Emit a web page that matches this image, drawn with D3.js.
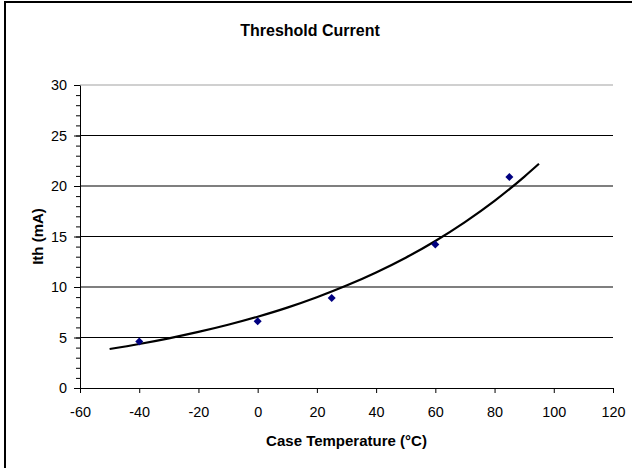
<!DOCTYPE html>
<html>
<head>
<meta charset="utf-8">
<script src="https://cdn.jsdelivr.net/npm/d3@7"></script>
<style>
  body { margin: 0; background: #fff; }
  text { font-family: "Liberation Sans", Arial, sans-serif; }
</style>
</head>
<body>
<div id="chart"></div>
<script>
// measured points
const caseTemp = [-40, 0, 25, 60, 85];
const ithValues = [4.6, 6.6, 8.9, 14.2, 20.9];

// trend line
const trendTemp = [-50, -40, -30, -20, -10, 0, 10, 20, 30, 40, 50, 60, 70, 80, 90, 95];
const trendIth = [3.86, 4.36, 4.92, 5.55, 6.26, 7.06, 7.96, 8.99, 10.14, 11.44, 12.9, 14.56, 16.43, 18.53, 20.91, 22.2];

const xTicks = [-60, -40, -20, 0, 20, 40, 60, 80, 100, 120];
const yTicks = [0, 5, 10, 15, 20, 25, 30];
const yMinorTicks = d3.range(0, 31, 1);

const width = 632, height = 468;
const margin = { top: 85, right: 19, bottom: 80, left: 80 };
const innerW = width - margin.left - margin.right;
const innerH = height - margin.top - margin.bottom;

const svg = d3.select("#chart")
    .append("svg")
    .attr("width", width)
    .attr("height", height);

// outer frame
svg.append("rect")
    .attr("x", 5)
    .attr("y", 2)
    .attr("width", 640)
    .attr("height", 480)
    .attr("fill", "none")
    .attr("stroke", "#000")
    .attr("stroke-width", 2);

svg.append("text")
    .attr("x", 310)
    .attr("y", 36)
    .attr("text-anchor", "middle")
    .attr("font-size", "16px")
    .attr("font-weight", "bold")
    .text("Threshold Current");

const g = svg.append("g")
    .attr("transform", "translate(" + margin.left + "," + margin.top + ")");

const x = d3.scaleLinear().domain([-60, 120]).range([0, innerW]);
const y = d3.scaleLinear().domain([0, 30]).range([innerH, 0]);

// gridlines
g.selectAll(".grid")
    .data(yTicks.filter(d => d > 0 && d < 30))
    .enter()
    .append("line")
    .attr("class", "grid")
    .attr("x1", 0)
    .attr("x2", innerW)
    .attr("y1", d => y(d))
    .attr("y2", d => y(d))
    .attr("stroke", "#000")
    .attr("stroke-width", 1.2);

// top border of plot area
g.append("line")
    .attr("x1", 0)
    .attr("x2", innerW)
    .attr("y1", y(30))
    .attr("y2", y(30))
    .attr("stroke", "#c0c0c0")
    .attr("stroke-width", 1.5);

// minor y ticks
g.append("g")
    .call(d3.axisLeft(y).tickValues(yMinorTicks).tickSize(4).tickFormat(""))
    .call(a => a.select(".domain").remove())
    .selectAll("line").attr("stroke", "#000");

// y axis
const yAxis = g.append("g")
    .call(d3.axisLeft(y).tickValues(yTicks).tickSize(6).tickPadding(7)
        .tickSizeOuter(0).tickFormat(d => String(d)));
yAxis.selectAll("text")
    .attr("font-size", "14.4px")
    .attr("fill", "#000");
yAxis.select(".domain").attr("stroke", "#000");

// x axis
const xAxis = g.append("g")
    .attr("transform", "translate(0," + innerH + ")")
    .call(d3.axisBottom(x).tickValues(xTicks).tickSize(5).tickPadding(14)
        .tickSizeOuter(0).tickFormat(d => String(d)));
xAxis.selectAll("text")
    .attr("font-size", "14.4px")
    .attr("fill", "#000");
xAxis.select(".domain").attr("stroke", "#000");

// axis titles
svg.append("text")
    .attr("x", margin.left + innerW / 2)
    .attr("y", 446)
    .attr("text-anchor", "middle")
    .attr("font-size", "15px")
    .attr("font-weight", "bold")
    .text("Case Temperature (°C)");

svg.append("text")
    .attr("transform", "rotate(-90)")
    .attr("x", -(margin.top + innerH / 2))
    .attr("y", 43)
    .attr("text-anchor", "middle")
    .attr("font-size", "15px")
    .attr("font-weight", "bold")
    .text("Ith (mA)");

// trend line
const trend = trendTemp.map((t, i) => ({ t: t, v: trendIth[i] }));
g.append("path")
    .datum(trend)
    .attr("fill", "none")
    .attr("stroke", "#000")
    .attr("stroke-width", 2.2)
    .attr("d", d3.line()
        .x(d => x(d.t))
        .y(d => y(d.v))
        .curve(d3.curveMonotoneX));

// markers
const points = caseTemp.map((t, i) => ({ t: t, v: ithValues[i] }));
const r = 4;
g.selectAll(".pt")
    .data(points)
    .enter()
    .append("path")
    .attr("class", "pt")
    .attr("transform", d => "translate(" + x(d.t) + "," + y(d.v) + ")")
    .attr("d", "M0," + (-r) + "L" + r + ",0L0," + r + "L" + (-r) + ",0Z")
    .attr("fill", "#000080");
</script>
</body>
</html>
